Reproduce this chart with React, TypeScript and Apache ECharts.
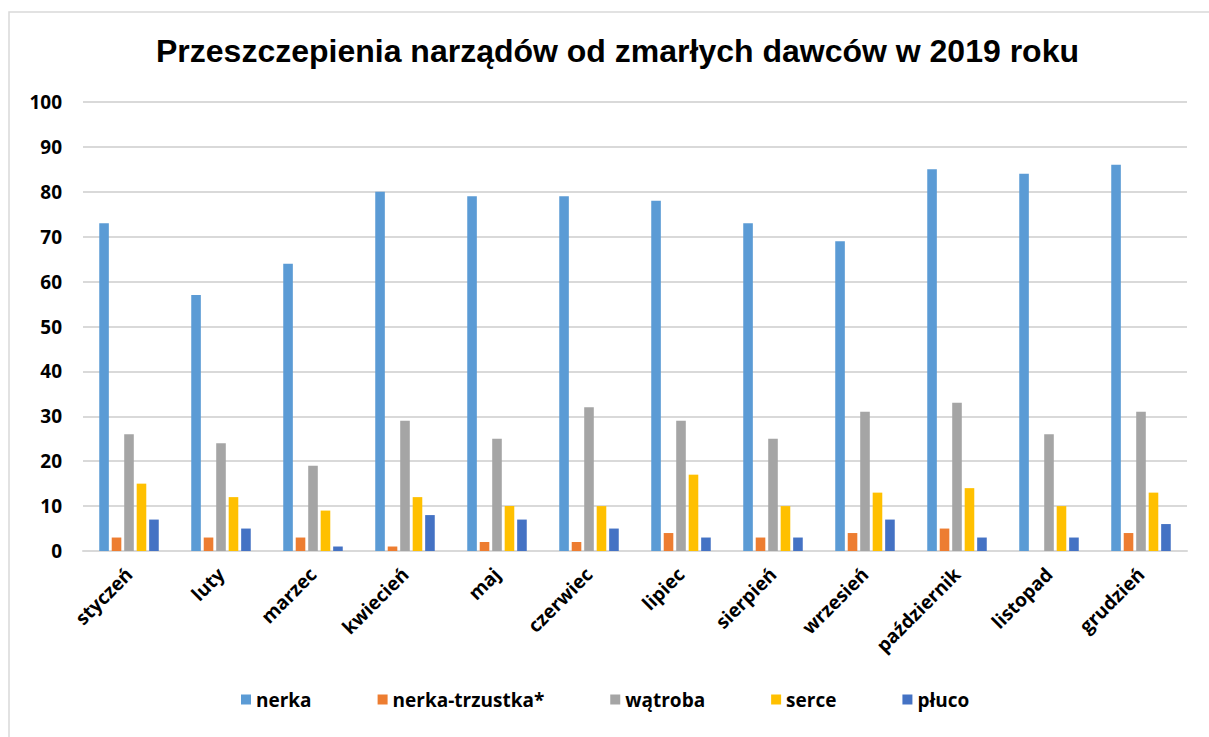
import React, { useEffect, useRef } from "react";
import * as echarts from "echarts";

const months = ["styczeń", "luty", "marzec", "kwiecień", "maj", "czerwiec", "lipiec", "sierpień", "wrzesień", "październik", "listopad", "grudzień"];
const nerka = [73, 57, 64, 80, 79, 79, 78, 73, 69, 85, 84, 86];
const nerkaTrzustka = [3, 3, 3, 1, 2, 2, 4, 3, 4, 5, 0, 4];
const watroba = [26, 24, 19, 29, 25, 32, 29, 25, 31, 33, 26, 31];
const serce = [15, 12, 9, 12, 10, 10, 17, 10, 13, 14, 10, 13];
const pluco = [7, 5, 1, 8, 7, 5, 3, 3, 7, 3, 3, 6];

const seriesDefs = [
  { name: "nerka", data: nerka, color: "#5B9BD5" },
  { name: "nerka-trzustka*", data: nerkaTrzustka, color: "#ED7D31" },
  { name: "wątroba", data: watroba, color: "#A5A5A5" },
  { name: "serce", data: serce, color: "#FFC000" },
  { name: "płuco", data: pluco, color: "#4472C4" },
];

const labelFont = "'Open Sans', 'Noto Sans', sans-serif";

export default function App() {
  const ref = useRef<HTMLDivElement>(null);
  useEffect(() => {
    if (!ref.current) return;
    const chart = echarts.init(ref.current, null, { renderer: "svg" });
    chart.setOption({
      animation: false,
      backgroundColor: "#ffffff",
      title: {
        text: "Przeszczepienia narządów od zmarłych dawców w 2019 roku",
        left: 151,
        top: 30,
        textStyle: {
          fontFamily: "'Liberation Sans', Arial, sans-serif",
          fontWeight: "bold",
          fontSize: 32,
          color: "#000000",
        },
      },
      graphic: [
        {
          type: "rect",
          shape: { x: 9, y: 12, width: 1220, height: 740 },
          style: { fill: "none", stroke: "#d9d9d9", lineWidth: 1.5 },
          silent: true,
        },
      ],
      legend: {
        left: 236,
        top: 685,
        itemWidth: 10,
        itemHeight: 10,
        itemGap: 66,
        icon: "rect",
        textStyle: {
          fontFamily: labelFont,
          fontWeight: "bold",
          fontSize: 19,
          color: "#000000",
        },
      },
      grid: { left: 83, right: 22, top: 102, bottom: 737 - 551 },
      xAxis: {
        type: "category",
        data: months,
        axisLine: { lineStyle: { color: "#d9d9d9", width: 2 } },
        axisTick: { show: false },
        axisLabel: {
          rotate: 45,
          interval: 0,
          margin: 20,
          fontFamily: labelFont,
          fontWeight: "bold",
          fontSize: 19,
          color: "#000000",
        },
      },
      yAxis: {
        type: "value",
        min: 0,
        max: 100,
        interval: 10,
        axisLine: { show: false },
        axisTick: { show: false },
        splitLine: { lineStyle: { color: "#d9d9d9", width: 2 } },
        axisLabel: {
          margin: 21,
          fontFamily: labelFont,
          fontWeight: "bold",
          fontSize: 19,
          color: "#000000",
        },
      },
      series: seriesDefs.map((s) => ({
        name: s.name,
        type: "bar",
        data: s.data,
        barWidth: 9.6,
        barGap: "30%",
        itemStyle: { color: s.color },
      })),
    });
    return () => chart.dispose();
  }, []);
  return (
    <div
      ref={ref}
      style={{ position: "fixed", left: 0, top: 0, width: 1209, height: 737 }}
    />
  );
}
